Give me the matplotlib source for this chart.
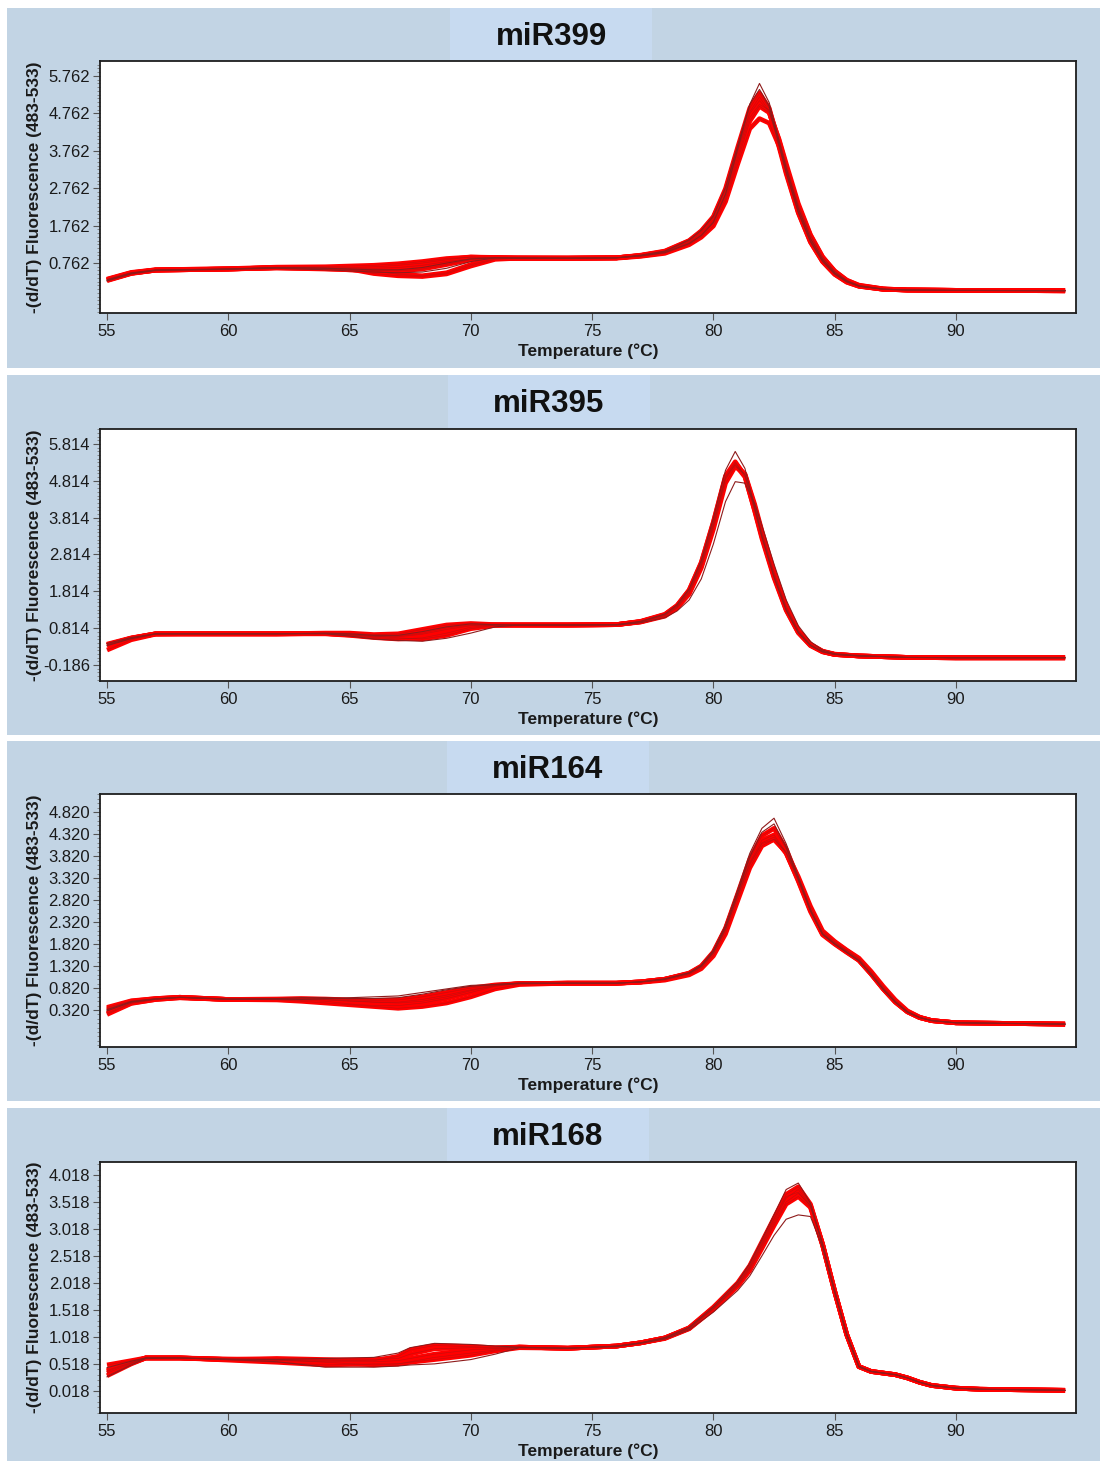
import numpy as np
import matplotlib
matplotlib.use("Agg")
import matplotlib.pyplot as plt
from matplotlib.patches import Rectangle
from matplotlib.ticker import FixedLocator, FormatStrFormatter

# ---------------------------------------------------------------- data
# Melting-curve derivative traces, -(d/dT) fluorescence (483-533) vs temperature
titles = ["miR399", "miR395", "miR164", "miR168"]

temp_399 = [55, 56, 57, 58, 60, 62, 64, 65, 66, 67, 68, 69, 70, 71, 72, 74, 76, 77, 78, 79,
            79.5, 80, 80.5, 81, 81.5, 81.9, 82.3, 82.7, 83, 83.5, 84, 84.5, 85, 85.5, 86, 87,
            88, 90, 94.5]
mir399 = [
    [0.31, 0.49, 0.57, 0.58, 0.60, 0.64, 0.62, 0.62, 0.62, 0.64, 0.70, 0.80, 0.88, 0.90, 0.89, 0.89, 0.90, 0.96, 1.06, 1.32,
     1.56, 1.92, 2.62, 3.70, 4.75, 5.10, 4.80, 3.96, 3.25, 2.18, 1.38, 0.84, 0.49, 0.27, 0.15, 0.06, 0.04, 0.03, 0.02],
    [0.33, 0.51, 0.58, 0.59, 0.61, 0.65, 0.66, 0.68, 0.70, 0.74, 0.80, 0.88, 0.92, 0.90, 0.89, 0.89, 0.89, 0.94, 1.02, 1.25,
     1.45, 1.75, 2.40, 3.40, 4.35, 4.62, 4.50, 3.90, 3.30, 2.30, 1.50, 0.92, 0.55, 0.30, 0.17, 0.07, 0.04, 0.03, 0.02],
    [0.30, 0.49, 0.57, 0.58, 0.60, 0.63, 0.60, 0.58, 0.55, 0.46, 0.42, 0.50, 0.72, 0.88, 0.89, 0.89, 0.90, 0.97, 1.08, 1.36,
     1.62, 2.00, 2.75, 3.85, 4.90, 5.30, 4.90, 3.95, 3.20, 2.12, 1.33, 0.80, 0.46, 0.25, 0.14, 0.06, 0.04, 0.03, 0.02],
    [0.32, 0.50, 0.58, 0.59, 0.60, 0.64, 0.63, 0.60, 0.48, 0.42, 0.40, 0.47, 0.68, 0.86, 0.89, 0.89, 0.90, 0.96, 1.05, 1.30,
     1.52, 1.88, 2.55, 3.60, 4.65, 5.00, 4.85, 4.05, 3.35, 2.25, 1.43, 0.87, 0.51, 0.28, 0.15, 0.06, 0.04, 0.03, 0.02],
    [0.29, 0.48, 0.57, 0.58, 0.60, 0.64, 0.64, 0.64, 0.66, 0.70, 0.76, 0.85, 0.92, 0.91, 0.90, 0.89, 0.90, 0.96, 1.07, 1.35,
     1.60, 1.98, 2.70, 3.78, 4.80, 5.20, 4.82, 3.88, 3.15, 2.10, 1.32, 0.80, 0.46, 0.25, 0.14, 0.06, 0.04, 0.03, 0.02],
    [0.31, 0.49, 0.57, 0.58, 0.60, 0.63, 0.61, 0.58, 0.56, 0.55, 0.60, 0.72, 0.85, 0.90, 0.89, 0.89, 0.90, 0.95, 1.04, 1.28,
     1.48, 1.82, 2.48, 3.50, 4.55, 4.95, 4.78, 4.08, 3.42, 2.35, 1.52, 0.93, 0.54, 0.30, 0.16, 0.07, 0.04, 0.03, 0.02],
    [0.30, 0.49, 0.57, 0.58, 0.60, 0.64, 0.62, 0.60, 0.58, 0.58, 0.64, 0.76, 0.87, 0.90, 0.89, 0.89, 0.90, 0.97, 1.08, 1.38,
     1.64, 2.02, 2.78, 3.90, 5.00, 5.40, 4.95, 3.95, 3.18, 2.12, 1.34, 0.81, 0.47, 0.26, 0.14, 0.06, 0.04, 0.03, 0.02],
    [0.28, 0.47, 0.56, 0.57, 0.59, 0.62, 0.58, 0.55, 0.52, 0.50, 0.52, 0.62, 0.80, 0.90, 0.90, 0.89, 0.90, 0.95, 1.04, 1.28,
     1.50, 1.85, 2.60, 3.80, 5.00, 5.56, 5.05, 4.05, 3.30, 2.22, 1.42, 0.86, 0.50, 0.28, 0.15, 0.06, 0.04, 0.03, 0.02],
]

temp_395 = [55, 56, 57, 58, 60, 62, 64, 65, 66, 67, 68, 69, 70, 71, 72, 74, 76, 77, 78, 78.5,
            79, 79.5, 80, 80.5, 80.9, 81.3, 81.7, 82, 82.5, 83, 83.5, 84, 84.5, 85, 86, 88,
            90, 94.5]
mir395 = [
    [0.36, 0.54, 0.66, 0.66, 0.66, 0.66, 0.67, 0.63, 0.58, 0.58, 0.65, 0.78, 0.88, 0.90, 0.90, 0.90, 0.91, 0.99, 1.17, 1.40,
     1.80, 2.53, 3.61, 4.88, 5.30, 4.97, 4.07, 3.34, 2.26, 1.35, 0.72, 0.36, 0.18, 0.10, 0.06, 0.02, 0.01, 0.01],
    [0.35, 0.54, 0.66, 0.66, 0.66, 0.66, 0.67, 0.64, 0.60, 0.55, 0.52, 0.62, 0.80, 0.89, 0.90, 0.90, 0.91, 0.99, 1.16, 1.38,
     1.78, 2.50, 3.58, 4.85, 5.25, 4.98, 4.12, 3.40, 2.30, 1.38, 0.74, 0.37, 0.18, 0.10, 0.06, 0.02, 0.01, 0.01],
    [0.22, 0.50, 0.65, 0.66, 0.66, 0.66, 0.68, 0.68, 0.64, 0.66, 0.78, 0.90, 0.94, 0.91, 0.90, 0.90, 0.91, 1.00, 1.19, 1.43,
     1.85, 2.60, 3.70, 4.95, 5.33, 4.95, 4.00, 3.25, 2.18, 1.30, 0.69, 0.34, 0.17, 0.10, 0.06, 0.02, 0.01, 0.01],
    [0.38, 0.55, 0.66, 0.66, 0.66, 0.66, 0.66, 0.62, 0.56, 0.52, 0.55, 0.68, 0.84, 0.90, 0.90, 0.90, 0.91, 0.98, 1.14, 1.36,
     1.74, 2.45, 3.50, 4.75, 5.20, 5.00, 4.18, 3.45, 2.35, 1.42, 0.76, 0.38, 0.19, 0.11, 0.06, 0.02, 0.01, 0.01],
    [0.36, 0.54, 0.66, 0.66, 0.66, 0.66, 0.67, 0.64, 0.60, 0.60, 0.68, 0.82, 0.90, 0.90, 0.90, 0.90, 0.91, 0.99, 1.18, 1.42,
     1.84, 2.58, 3.68, 4.92, 5.25, 4.92, 4.02, 3.30, 2.22, 1.32, 0.70, 0.35, 0.18, 0.10, 0.06, 0.02, 0.01, 0.01],
    [0.40, 0.56, 0.66, 0.66, 0.66, 0.66, 0.66, 0.60, 0.52, 0.48, 0.46, 0.54, 0.68, 0.85, 0.90, 0.90, 0.90, 0.96, 1.10, 1.28,
     1.58, 2.15, 3.10, 4.25, 4.79, 4.75, 4.20, 3.60, 2.55, 1.58, 0.88, 0.45, 0.22, 0.12, 0.07, 0.02, 0.01, 0.01],
    [0.34, 0.53, 0.66, 0.66, 0.66, 0.66, 0.68, 0.66, 0.62, 0.62, 0.72, 0.85, 0.93, 0.91, 0.90, 0.90, 0.91, 1.00, 1.20, 1.45,
     1.88, 2.65, 3.80, 5.10, 5.61, 5.15, 4.10, 3.30, 2.20, 1.30, 0.69, 0.34, 0.17, 0.10, 0.06, 0.02, 0.01, 0.01],
]

temp_164 = [55, 56, 57, 58, 60, 62, 63, 64, 65, 66, 67, 68, 69, 70, 71, 72, 74, 76, 77, 78,
            79, 79.5, 80, 80.5, 81, 81.5, 82, 82.5, 83, 83.5, 84, 84.5, 85, 85.5, 86, 86.5,
            87, 87.5, 88, 88.5, 89, 90, 94.5]
mir164 = [
    [0.32, 0.51, 0.57, 0.61, 0.56, 0.56, 0.56, 0.55, 0.52, 0.50, 0.50, 0.56, 0.66, 0.78, 0.88, 0.92, 0.93, 0.93, 0.96, 1.02,
     1.15, 1.30, 1.61, 2.14, 2.90, 3.65, 4.12, 4.25, 3.88, 3.27, 2.59, 2.06, 1.84, 1.65, 1.46, 1.15, 0.81, 0.51, 0.28, 0.15,
     0.08, 0.03, 0.00],
    [0.25, 0.48, 0.56, 0.60, 0.56, 0.55, 0.52, 0.48, 0.44, 0.40, 0.36, 0.40, 0.48, 0.62, 0.80, 0.90, 0.93, 0.93, 0.95, 1.00,
     1.12, 1.26, 1.55, 2.05, 2.80, 3.55, 4.05, 4.20, 3.92, 3.35, 2.68, 2.12, 1.88, 1.68, 1.50, 1.20, 0.86, 0.55, 0.30, 0.16,
     0.08, 0.03, 0.00],
    [0.35, 0.52, 0.58, 0.61, 0.56, 0.57, 0.58, 0.57, 0.55, 0.54, 0.55, 0.62, 0.72, 0.82, 0.89, 0.92, 0.93, 0.93, 0.96, 1.02,
     1.16, 1.32, 1.64, 2.18, 2.96, 3.75, 4.28, 4.45, 3.98, 3.30, 2.60, 2.05, 1.83, 1.64, 1.45, 1.14, 0.80, 0.50, 0.28, 0.15,
     0.08, 0.03, 0.00],
    [0.38, 0.53, 0.58, 0.61, 0.56, 0.56, 0.54, 0.52, 0.46, 0.42, 0.42, 0.48, 0.58, 0.72, 0.86, 0.92, 0.93, 0.93, 0.96, 1.02,
     1.14, 1.29, 1.60, 2.12, 2.88, 3.62, 4.10, 4.20, 3.90, 3.30, 2.62, 2.08, 1.86, 1.67, 1.48, 1.17, 0.83, 0.52, 0.29, 0.15,
     0.08, 0.03, 0.00],
    [0.22, 0.47, 0.56, 0.60, 0.56, 0.56, 0.57, 0.56, 0.53, 0.50, 0.48, 0.52, 0.62, 0.76, 0.87, 0.92, 0.93, 0.93, 0.96, 1.02,
     1.15, 1.31, 1.62, 2.16, 2.92, 3.68, 4.18, 4.30, 3.90, 3.25, 2.56, 2.03, 1.82, 1.63, 1.45, 1.14, 0.80, 0.50, 0.28, 0.15,
     0.08, 0.03, 0.00],
    [0.33, 0.51, 0.57, 0.61, 0.57, 0.57, 0.56, 0.58, 0.60, 0.62, 0.64, 0.72, 0.80, 0.88, 0.90, 0.93, 0.93, 0.93, 0.96, 1.02,
     1.16, 1.32, 1.65, 2.20, 2.98, 3.80, 4.36, 4.55, 4.02, 3.30, 2.58, 2.04, 1.82, 1.63, 1.44, 1.13, 0.79, 0.50, 0.27, 0.15,
     0.08, 0.03, 0.00],
    [0.30, 0.50, 0.57, 0.61, 0.57, 0.58, 0.60, 0.60, 0.58, 0.58, 0.60, 0.68, 0.78, 0.86, 0.90, 0.93, 0.93, 0.93, 0.96, 1.03,
     1.17, 1.34, 1.68, 2.25, 3.05, 3.88, 4.45, 4.68, 4.10, 3.35, 2.60, 2.05, 1.82, 1.63, 1.44, 1.13, 0.79, 0.50, 0.27, 0.15,
     0.08, 0.03, 0.00],
]

temp_168 = [55, 56, 56.6, 58, 60, 62, 64, 66, 67, 67.5, 68.5, 70, 71, 72, 74, 76, 77, 78, 79, 80,
            81, 81.5, 82, 82.5, 83, 83.5, 84, 84.5, 85, 85.5, 86, 86.5, 87, 87.5, 88, 88.5, 89,
            90, 91, 94.5]
mir168 = [
    [0.38, 0.54, 0.63, 0.63, 0.60, 0.58, 0.56, 0.56, 0.58, 0.62, 0.70, 0.78, 0.80, 0.83, 0.81, 0.85, 0.91, 1.00, 1.18, 1.55,
     1.99, 2.30, 2.73, 3.16, 3.59, 3.75, 3.45, 2.73, 1.86, 1.06, 0.47, 0.38, 0.35, 0.32, 0.26, 0.18, 0.12, 0.07, 0.05, 0.03],
    [0.50, 0.58, 0.63, 0.63, 0.60, 0.62, 0.60, 0.58, 0.66, 0.78, 0.86, 0.84, 0.82, 0.83, 0.81, 0.85, 0.91, 1.00, 1.19, 1.57,
     2.02, 2.34, 2.78, 3.22, 3.66, 3.80, 3.48, 2.74, 1.87, 1.06, 0.47, 0.38, 0.35, 0.32, 0.26, 0.18, 0.12, 0.07, 0.05, 0.03],
    [0.30, 0.52, 0.63, 0.63, 0.59, 0.55, 0.50, 0.52, 0.52, 0.55, 0.60, 0.68, 0.76, 0.82, 0.81, 0.85, 0.91, 0.99, 1.17, 1.53,
     1.96, 2.25, 2.66, 3.08, 3.48, 3.62, 3.42, 2.72, 1.86, 1.06, 0.47, 0.38, 0.35, 0.32, 0.26, 0.18, 0.12, 0.07, 0.05, 0.03],
    [0.35, 0.53, 0.63, 0.63, 0.60, 0.59, 0.58, 0.60, 0.62, 0.70, 0.80, 0.82, 0.81, 0.83, 0.81, 0.85, 0.91, 1.00, 1.18, 1.56,
     2.00, 2.32, 2.75, 3.20, 3.62, 3.70, 3.44, 2.73, 1.86, 1.06, 0.47, 0.38, 0.35, 0.32, 0.26, 0.18, 0.12, 0.07, 0.05, 0.03],
    [0.40, 0.55, 0.63, 0.63, 0.61, 0.60, 0.55, 0.50, 0.52, 0.56, 0.64, 0.72, 0.78, 0.83, 0.81, 0.85, 0.91, 1.00, 1.18, 1.54,
     1.97, 2.28, 2.70, 3.12, 3.52, 3.68, 3.46, 2.74, 1.87, 1.06, 0.47, 0.38, 0.35, 0.32, 0.26, 0.18, 0.12, 0.07, 0.05, 0.03],
    [0.28, 0.50, 0.62, 0.63, 0.60, 0.56, 0.46, 0.46, 0.48, 0.50, 0.52, 0.60, 0.70, 0.82, 0.81, 0.84, 0.90, 0.98, 1.15, 1.48,
     1.88, 2.15, 2.52, 2.90, 3.20, 3.28, 3.25, 2.68, 1.84, 1.05, 0.46, 0.38, 0.35, 0.32, 0.26, 0.18, 0.12, 0.07, 0.05, 0.03],
    [0.45, 0.57, 0.63, 0.63, 0.61, 0.60, 0.62, 0.64, 0.72, 0.82, 0.90, 0.88, 0.85, 0.83, 0.81, 0.85, 0.91, 1.01, 1.20, 1.58,
     2.04, 2.38, 2.82, 3.28, 3.75, 3.87, 3.50, 2.75, 1.88, 1.07, 0.48, 0.38, 0.35, 0.32, 0.26, 0.18, 0.12, 0.07, 0.05, 0.03],
]

yticks_399 = [0.762, 1.762, 2.762, 3.762, 4.762, 5.762]
yticks_395 = [-0.186, 0.814, 1.814, 2.814, 3.814, 4.814, 5.814]
yticks_164 = [0.320, 0.820, 1.320, 1.820, 2.320, 2.820, 3.320, 3.820, 4.320, 4.820]
yticks_168 = [0.018, 0.518, 1.018, 1.518, 2.018, 2.518, 3.018, 3.518, 4.018]
xticks = [55, 60, 65, 70, 75, 80, 85, 90]

# ---------------------------------------------------------------- layout (pixels)
W, H = 1100, 1461
PANEL_BG = "#c2d4e4"
TITLE_BG = "#c7daf0"
RED = "#ff0000"
DARK = "#8e1b1b"

panels = [
    dict(title=titles[0], temp=temp_399, runs=mir399, yt=yticks_399,
         box=(7, 8, 1100, 368), tbox=(450, 8, 652, 62), ax=(61, 313), ylim=(-0.575, 6.16)),
    dict(title=titles[1], temp=temp_395, runs=mir395, yt=yticks_395,
         box=(7, 375, 1100, 735), tbox=(448, 375, 650, 428), ax=(429, 681), ylim=(-0.62, 6.22)),
    dict(title=titles[2], temp=temp_164, runs=mir164, yt=yticks_164,
         box=(7, 741, 1100, 1101), tbox=(447, 741, 649, 794), ax=(794, 1047), ylim=(-0.52, 5.23)),
    dict(title=titles[3], temp=temp_168, runs=mir168, yt=yticks_168,
         box=(7, 1108, 1100, 1461), tbox=(447, 1108, 649, 1162), ax=(1162, 1413), ylim=(-0.39, 4.26)),
]

AX_L, AX_R = 100, 1076

sans = ["Liberation Sans", "DejaVu Sans"]

fig = plt.figure(figsize=(W / 100, H / 100), dpi=100)
fig.patch.set_facecolor("white")


def frect(x0, y0, x1, y1, color, z):
    fig.patches.append(Rectangle((x0 / W, 1 - y1 / H), (x1 - x0) / W, (y1 - y0) / H,
                                 transform=fig.transFigure, facecolor=color,
                                 edgecolor="none", zorder=z))


for p in panels:
    frect(*p["box"], PANEL_BG, z=-3)
    frect(*p["tbox"], TITLE_BG, z=-2)
    tx = (p["tbox"][0] + p["tbox"][2]) / 2
    ty = (p["tbox"][1] + p["tbox"][3]) / 2 + 2
    fig.text(tx / W, 1 - ty / H, p["title"], ha="center", va="center",
             fontsize=22.5, fontweight="bold", family=sans, color="#111111")

    top, bot = p["ax"]
    ax = fig.add_axes([AX_L / W, 1 - bot / H, (AX_R - AX_L) / W, (bot - top) / H])
    ax.set_facecolor("white")
    ax.set_xlim(54.71, 94.95)
    ax.set_ylim(*p["ylim"])

    runs = p["runs"]
    # bulk of the replicates as thick red traces
    for r in runs[:-2]:
        ax.plot(p["temp"], r, color=RED, lw=3.4, solid_joinstyle="round",
                solid_capstyle="butt", zorder=3)
    # thin outline traces on top
    for r in runs[:-2]:
        ax.plot(p["temp"], r, color=DARK, lw=0.45, alpha=0.5, zorder=4)
    for r in runs[-2:]:
        ax.plot(p["temp"], r, color=DARK, lw=0.8, zorder=5)

    for s in ax.spines.values():
        s.set_color("#1e1e1e")
        s.set_linewidth(1.3)

    ax.xaxis.set_major_locator(FixedLocator(xticks))
    ax.set_xticklabels([str(t) for t in xticks])
    ax.yaxis.set_major_locator(FixedLocator(p["yt"]))
    ax.yaxis.set_major_formatter(FormatStrFormatter("%.3f"))
    step = 0.1
    y0, y1 = p["ylim"]
    base = p["yt"][0]
    k0 = int(np.ceil((y0 - base) / step))
    k1 = int(np.floor((y1 - base) / step))
    ax.yaxis.set_minor_locator(FixedLocator([base + k * step for k in range(k0, k1 + 1)]))

    ax.tick_params(axis="x", which="major", direction="out", length=5, width=0.8,
                   color="#555555", pad=3, labelsize=12, labelcolor="#1a1a1a")
    ax.tick_params(axis="y", which="major", direction="out", length=5, width=0.8,
                   color="#555555", pad=2, labelsize=12, labelcolor="#1a1a1a")
    ax.tick_params(axis="y", which="minor", direction="out", length=2.5, width=0.6,
                   color="#777777")
    for lab in ax.get_xticklabels() + ax.get_yticklabels():
        lab.set_family(sans)

    cy = (top + bot) / 2
    fig.text(35 / W, 1 - cy / H, "-(d/dT) Fluorescence (483-533)", rotation=90,
             ha="center", va="center", fontsize=12.5, fontweight="bold",
             family=sans, color="#1a1a1a")
    fig.text((AX_L + AX_R) / 2 / W, 1 - (bot + 38) / H, "Temperature (°C)",
             ha="center", va="center", fontsize=12.5, fontweight="bold",
             family=sans, color="#1a1a1a")

fig.savefig("out.png", dpi=100, facecolor="white")
